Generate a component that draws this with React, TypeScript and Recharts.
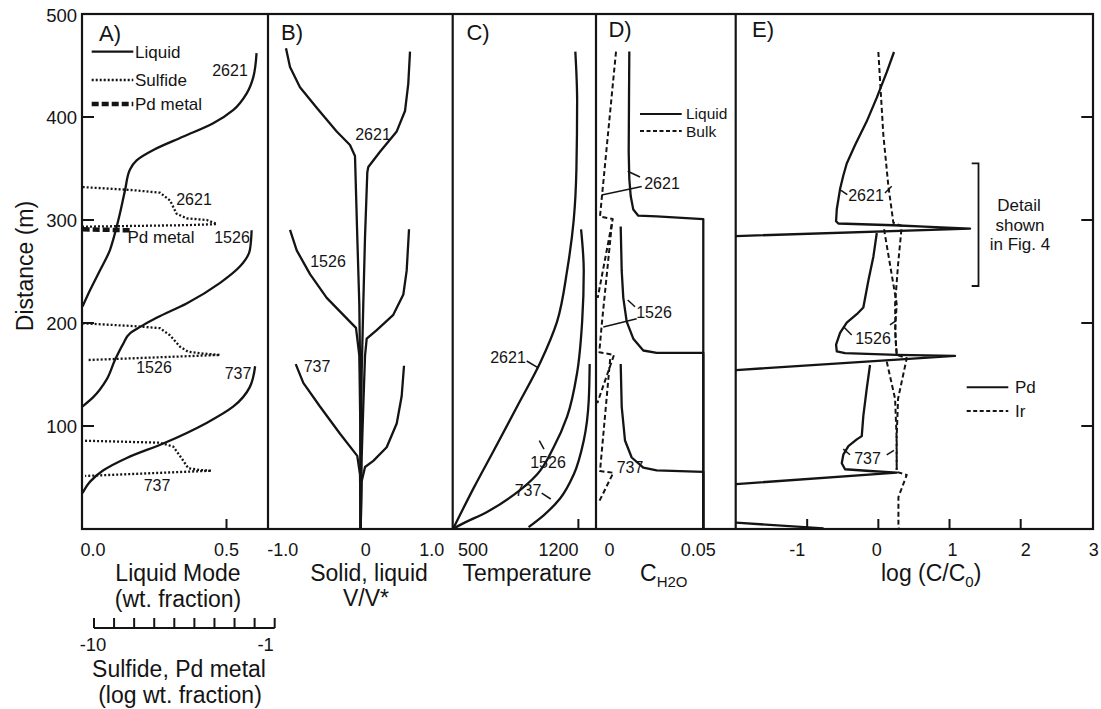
import React from 'react';
import { LineChart, Line, XAxis, YAxis } from 'recharts';

// ---------------- DATA ----------------
// Distance (m) on the shared vertical axis
const distanceTicks = [100, 200, 300, 400, 500];

// Panel A: liquid mode (wt. fraction), [value, distance]
const liqA2621 = [[0.604,462],[0.593,439],[0.570,423],[0.524,407],[0.454,394],[0.351,381],[0.247,368],[0.189,358],[0.166,349],[0.149,329],[0.131,306],[0.108,281],[0.097,271],[0.062,251],[0.028,232],[0.002,216]];
const liqA1526 = [[0.587,290],[0.581,271],[0.547,255],[0.478,239],[0.362,219],[0.258,205],[0.2,196],[0.166,190],[0.143,180],[0.114,164],[0.085,145],[0.039,128],[0.002,119]];
const liqA737 = [[0.599,158],[0.581,138],[0.524,119],[0.431,103],[0.281,83],[0.155,69],[0.074,57],[0.028,46],[0.002,35]];
// Panel A: sulfide and Pd metal (log wt. fraction)
const sulA2621 = [[-10.58,332],[-8.07,329],[-6.73,326.5],[-6.23,319],[-5.9,306],[-5.4,301.6],[-4.4,300],[-3.9,296],[-5.4,295],[-10.58,293.5]];
const sulA1526 = [[-10.58,199.7],[-8.06,197],[-6.73,195],[-6.23,188],[-5.73,177],[-5.32,172],[-4.4,170],[-3.74,169],[-10.38,164]];
const sulA737 = [[-10.46,85.7],[-6.73,83.8],[-6.07,80],[-5.65,68.6],[-5.32,59],[-4.74,57.3],[-4.16,56.6],[-10.46,51.5]];
const pdMetalA = [[-10.58,291],[-8.2,290]];
const liqModeTicks = [0, 0.5];
const logTicks = [-10, -9, -8, -7, -6, -5, -4, -3, -2, -1];

// Panel B: solid (left) and liquid (right) V/V*
const solB2621 = [[-0.983,466.7],[-0.930,448.6],[-0.799,428.9],[-0.579,409],[-0.316,386],[-0.141,372.8],[-0.075,362.2],[-0.045,283.8],[-0.018,217.8],[-0.007,150],[0,60],[0,0]];
const liqB2621 = [[0.649,463.5],[0.626,432.2],[0.583,405.8],[0.474,386],[0.254,366.2],[0.1,351.4],[0.087,346.4],[0.057,283.8],[0.034,217.8],[0.013,151.8],[0.003,85.9],[0,0]];
const solB1526 = [[-0.93,290.4],[-0.842,270.5],[-0.667,247.5],[-0.447,224.4],[-0.229,207.9],[-0.062,195.3],[-0.018,168.3],[-0.005,100],[0,0]];
const liqB1526 = [[0.636,291],[0.605,250.8],[0.561,227.7],[0.429,207.9],[0.211,193.1],[0.079,184.8],[0.057,168.3],[0.034,118.9],[0.013,69.4],[0,0]];
const solB737 = [[-0.855,160.1],[-0.755,141.9],[-0.536,118.9],[-0.272,92.5],[-0.045,71],[-0.009,52.9],[0,0]];
const liqB737 = [[0.57,158.5],[0.539,128.8],[0.474,102.4],[0.342,79.3],[0.166,66.1],[0.057,60.2],[0.013,46.3],[0,0]];
const vTicks = [-1, 0, 1];

// Panel C: temperature
const tempC2621 = [[1183,463.5],[1193,415.7],[1189,349.7],[1174,300.2],[1137,250.8],[1081,201.3],[988,161.8],[858,118.9],[727,76],[615,39.7],[500,0]];
const tempC1526 = [[1215,291],[1230,250.8],[1221,201.3],[1193,151.8],[1137,109],[1062,79.3],[969,52.9],[839,33.1],[690,16.6],[541,4],[500,0]];
const tempC737 = [[1263,160.1],[1258,125.5],[1230,85.9],[1174,52.9],[1099,29.9],[1006,13.3],[922,1.8]];
const tempTicks = [500, 1200];

// Panel D: C_H2O, liquid and bulk
const liqD2621 = [[0.0152,463.5],[0.01505,415.7],[0.01491,366.2],[0.0152,339.8],[0.01585,323.3],[0.01707,310.1],[0.01943,304.2],[0.02808,303.5],[0.05,300.9],[0.05,0]];
const liqD1526 = [[0.01115,293.7],[0.01162,250.8],[0.01237,224.4],[0.01397,201.3],[0.01707,184.8],[0.02178,173.3],[0.02808,171],[0.05,171],[0.05,0]];
const liqD737 = [[0.01115,160.1],[0.01162,118.9],[0.01317,85.9],[0.01632,69.4],[0.02178,59.5],[0.02808,56.9],[0.05,55.5],[0.05,0]];
const bulkD2621 = [[0.00894,463.5],[0.00141,303.5],[0.00738,300.9],[0.00033,224.4]];
const bulkD1526 = [[0.0070,296],[0.00221,198],[0.00108,171.6],[0.008,169],[0.00014,122.2]];
const bulkD737 = [[0.0062,165],[0.00141,56.2],[0.00767,54.6],[0.00061,25]];
const h2oTicks = [0, 0.05];

// Panel E: log(C/C0), Pd and Ir
const pdE2621 = [[0.22,463.1],[0.118,443.5],[-0.022,418.8],[-0.163,395.8],[-0.327,372.8],[-0.444,354.8],[-0.492,343.2],[-0.538,330],[-0.584,310.4],[-0.594,298.8],[-0.562,296.6],[0.211,294.9],[0.726,293.3],[1.288,291.6],[-2,284.4]];
const pdE1526 = [[-0.022,287.4],[-0.07,264.4],[-0.14,241.3],[-0.211,215.1],[-0.303,208.5],[-0.444,200.3],[-0.538,190.5],[-0.594,179],[-0.584,172.4],[-0.468,170.7],[0.258,169.1],[1.077,168.1],[-2,154.3]];
const pdE737 = [[-0.117,159.2],[-0.163,136.2],[-0.211,109.9],[-0.233,90.2],[-0.303,87],[-0.421,80.4],[-0.492,72.2],[-0.514,63.9],[-0.468,58],[-0.117,56.3],[0.258,54.7],[-2,43.6]];
const pdEBase = [[-2,6.1],[-0.77,0.7]];
const irE2621 = [[0.0,463.1],[0.07,382.7],[0.14,333.4],[0.211,297.3],[0.329,294.3],[0.277,256.8],[0.235,218.4],[0.242,183.9],[0.258,169.3]];
const irE1526 = [[0.08,291],[0.258,218.4],[0.235,193.6],[0.258,169.1],[0.399,165.8],[0.277,126.5],[0.256,86.6],[0.258,57.4]];
const irE737 = [[0.118,162.5],[0.235,126.5],[0.258,86.6],[0.258,55.4],[0.399,52.5],[0.282,31],[0.282,4.9],[0.29,0]];
const logRatioTicks = [-1, 0, 1, 2, 3];

// ---------------- STYLE / LAYOUT ----------------
const INK = '#141414';
const FONT = '"Liberation Sans", Arial, Helvetica, sans-serif';
const TOP = 14;
const BOTTOM = 529;
const XH = 40;
const CH = BOTTOM - TOP + XH;
const DIST: [number, number] = [0, 500];

type P = { x: number; d: number };
const pts = (a: number[][]): P[] => a.map(([x, d]) => ({ x, d }));

const SOLID = { stroke: INK, strokeWidth: 2.3 };
const DASH = { stroke: INK, strokeWidth: 2, strokeDasharray: '5 3' };
const DOT = { stroke: INK, strokeWidth: 2.3, strokeDasharray: '2 2' };

const line = (key: string, data: number[][], style: any, type: any = 'linear', xId: any = 0, yId: any = 0) => (
  <Line
    key={key}
    data={pts(data)}
    dataKey="d"
    xAxisId={xId}
    yAxisId={yId}
    type={type}
    dot={false}
    activeDot={false}
    isAnimationActive={false}
    strokeLinejoin="round"
    {...style}
  />
);

const bottomTick = (labels: Record<string, string>, dx: Record<string, number>, marks: number[]) => (props: any) => {
  const { x, y, payload } = props;
  const v = payload.value;
  const k = String(v);
  return (
    <g>
      {marks.includes(v) && <line x1={x} y1={y} x2={x} y2={y - 10} stroke={INK} strokeWidth={2} />}
      <text x={x + (dx[k] ?? 0)} y={y + 27} textAnchor="middle" fontSize={18} fontFamily={FONT} fill={INK}>
        {labels[k] ?? k}
      </text>
    </g>
  );
};

const leftTick = (props: any) => {
  const { x, y, payload } = props;
  return (
    <g>
      {payload.value !== 500 && <line x1={x} y1={y} x2={x + 12} y2={y} stroke={INK} strokeWidth={2} />}
      <text x={x - 5} y={y + (payload.value === 500 ? 8 : 6.5)} textAnchor="end" fontSize={18.5} fontFamily={FONT} fill={INK}>
        {payload.value}
      </text>
    </g>
  );
};

const rightTick = (props: any) => {
  const { x, y, payload } = props;
  if (payload.value === 500) return <g />;
  return <line x1={x} y1={y} x2={x - 12} y2={y} stroke={INK} strokeWidth={2} />;
};

const logTick = (props: any) => {
  const { x, y, payload } = props;
  const v = payload.value;
  return (
    <g>
      <line x1={x} y1={y} x2={x} y2={y - 10} stroke={INK} strokeWidth={2} />
      {v === -10 && <text x={x - 1} y={y + 23} textAnchor="middle" fontSize={18.5} fontFamily={FONT} fill={INK}>-10</text>}
      {v === -1 && <text x={x - 9} y={y + 23} textAnchor="middle" fontSize={18.5} fontFamily={FONT} fill={INK}>-1</text>}
    </g>
  );
};

const M = { top: 0, right: 0, bottom: 0, left: 0 };

function Box({ left, top, children }: { left: number; top: number; children: React.ReactNode }) {
  return <div style={{ position: 'absolute', left, top }}>{children}</div>;
}

function T({ x, y, s = 17, a = 'middle', children }: { x: number; y: number; s?: number; a?: any; children: React.ReactNode }) {
  return (
    <text x={x} y={y + s * 0.36} fontSize={s} textAnchor={a} fontFamily={FONT} fill={INK}>
      {children}
    </text>
  );
}

function L({ x1, y1, x2, y2, w = 1.5, dash }: { x1: number; y1: number; x2: number; y2: number; w?: number; dash?: string }) {
  return <line x1={x1} y1={y1} x2={x2} y2={y2} stroke={INK} strokeWidth={w} strokeDasharray={dash} />;
}

export default function App() {
  return (
    <div style={{ position: 'absolute', left: 0, top: 0, width: 1101, height: 709, background: '#fff', overflow: 'hidden' }}>
      {/* Panel A */}
      <Box left={0} top={0}>
        <LineChart width={268} height={CH + TOP} margin={{ top: TOP, right: 0, bottom: 0, left: 0 }}>
          <XAxis xAxisId="lin" type="number" dataKey="x" domain={[0, 0.6436]} allowDataOverflow ticks={liqModeTicks} interval={0}
            height={XH} tickSize={0} tickMargin={0} axisLine={false} tick={bottomTick({ '0': '0.0', '0.5': '0.5' }, { '0': 11, '0.5': 0 }, [0.5])} />
          <XAxis xAxisId="log" type="number" dataKey="x" domain={[-10.613, -1.35]} allowDataOverflow hide />
          <YAxis type="number" domain={DIST} allowDataOverflow ticks={distanceTicks} interval={0} width={82}
            tickSize={0} tickMargin={0} axisLine={false} tick={leftTick} />
          {line('a1', liqA2621, SOLID, 'monotoneY', 'lin')}
          {line('a2', liqA1526, SOLID, 'monotoneY', 'lin')}
          {line('a3', liqA737, SOLID, 'monotoneY', 'lin')}
          {line('s1', sulA2621, DOT, 'linear', 'log')}
          {line('s2', sulA1526, DOT, 'linear', 'log')}
          {line('s3', sulA737, DOT, 'linear', 'log')}
          {line('pm', pdMetalA, { stroke: INK, strokeWidth: 4.5, strokeDasharray: '7 3' }, 'linear', 'log')}
        </LineChart>
      </Box>

      {/* Log axis for sulfide / Pd metal */}
      <Box left={74.3} top={618}>
        <LineChart width={210.7} height={40} margin={{ top: 0, right: 10, bottom: 0, left: 20 }}>
          <XAxis type="number" dataKey="x" domain={[-10, -1]} allowDataOverflow ticks={logTicks} interval={0} height={30}
            tickSize={0} tickMargin={0} axisLine={{ stroke: INK, strokeWidth: 2 }} tick={logTick} />
          <YAxis hide type="number" domain={[0, 1]} />
        </LineChart>
      </Box>

      {/* Panel B */}
      <Box left={268} top={TOP}>
        <LineChart width={184.7} height={CH} margin={M}>
          <XAxis type="number" dataKey="x" domain={[-1.2197, 1.2105]} allowDataOverflow ticks={vTicks} interval={0}
            height={XH} tickSize={0} tickMargin={0} axisLine={false}
            tick={bottomTick({ '-1': '-1.0', '0': '0', '1': '1.0' }, { '-1': -2, '0': 5, '1': -5 }, [])} />
          <YAxis hide type="number" domain={DIST} allowDataOverflow />
          {line('b1', solB2621, SOLID)}
          {line('b2', liqB2621, SOLID)}
          {line('b3', solB1526, SOLID)}
          {line('b4', liqB1526, SOLID)}
          {line('b5', solB737, SOLID)}
          {line('b6', liqB737, SOLID)}
        </LineChart>
      </Box>

      {/* Panel C */}
      <Box left={452.7} top={TOP}>
        <LineChart width={143.3} height={CH} margin={M}>
          <XAxis type="number" dataKey="x" domain={[500, 1300]} allowDataOverflow ticks={tempTicks} interval={0}
            height={XH} tickSize={0} tickMargin={0} axisLine={false}
            tick={bottomTick({}, { '500': 20, '1200': -20 }, [1200])} />
          <YAxis hide type="number" domain={DIST} allowDataOverflow />
          {line('c1', tempC2621, SOLID, 'monotoneY')}
          {line('c2', tempC1526, SOLID, 'monotoneY')}
          {line('c3', tempC737, SOLID, 'monotoneY')}
        </LineChart>
      </Box>

      {/* Panel D */}
      <Box left={596} top={TOP}>
        <LineChart width={139.7} height={CH} margin={M}>
          <XAxis type="number" dataKey="x" domain={[-0.00047, 0.06524]} allowDataOverflow ticks={h2oTicks} interval={0}
            height={XH} tickSize={0} tickMargin={0} axisLine={false}
            tick={bottomTick({ '0': '0', '0.05': '0.05' }, { '0': 12.5, '0.05': -5 }, [])} />
          <YAxis hide type="number" domain={DIST} allowDataOverflow />
          {line('d1', liqD2621, SOLID)}
          {line('d2', liqD1526, SOLID)}
          {line('d3', liqD737, SOLID)}
          {line('d4', bulkD2621, DASH)}
          {line('d5', bulkD1526, DASH)}
          {line('d6', bulkD737, DASH)}
        </LineChart>
      </Box>

      {/* Panel E */}
      <Box left={735.7} top={TOP}>
        <LineChart width={368.3} height={CH} margin={{ top: 0, right: 10, bottom: 0, left: 0 }}>
          <XAxis type="number" dataKey="x" domain={[-2, 3.02]} allowDataOverflow ticks={logRatioTicks} interval={0}
            height={XH} tickSize={0} tickMargin={0} axisLine={false}
            tick={bottomTick({}, { '-1': -10, '0': -1.5, '1': 3, '2': 5, '3': 2 }, [-1, 0, 1, 2])} />
          <YAxis yAxisId="main" hide type="number" domain={DIST} allowDataOverflow />
          <YAxis yAxisId="right" orientation="right" type="number" domain={DIST} allowDataOverflow ticks={distanceTicks}
            interval={0} width={1} tickSize={0} tickMargin={0} axisLine={false} tick={rightTick} />
          {line('e1', pdE2621, SOLID, 'linear', 0, 'main')}
          {line('e2', pdE1526, SOLID, 'linear', 0, 'main')}
          {line('e3', pdE737, SOLID, 'linear', 0, 'main')}
          {line('e4', pdEBase, SOLID, 'linear', 0, 'main')}
          {line('e5', irE2621, DASH, 'linear', 0, 'main')}
          {line('e6', irE1526, DASH, 'linear', 0, 'main')}
          {line('e7', irE737, DASH, 'linear', 0, 'main')}
        </LineChart>
      </Box>

      {/* Frames, annotations, legends, titles */}
      <svg width={1101} height={709} style={{ position: 'absolute', left: 0, top: 0, pointerEvents: 'none' }}>
        <rect x={82} y={TOP} width={1093 - 82} height={BOTTOM - TOP} fill="none" stroke={INK} strokeWidth={2.2} />
        {[268, 452.7, 596, 735.7].map((x) => (
          <line key={x} x1={x} y1={TOP} x2={x} y2={BOTTOM} stroke={INK} strokeWidth={2.2} />
        ))}

        {/* panel letters */}
        <T x={110} y={33} s={22}>A)</T>
        <T x={292} y={32} s={22}>B)</T>
        <T x={478} y={32} s={22}>C)</T>
        <T x={620} y={29} s={22}>D)</T>
        <T x={763} y={29} s={22}>E)</T>

        {/* A legend */}
        <L x1={91.7} y1={51.7} x2={133.3} y2={51.7} w={2.3} />
        <L x1={91.7} y1={80} x2={133.3} y2={80} w={2.3} dash="2 2" />
        <L x1={91.7} y1={104} x2={133.3} y2={104} w={4.5} dash="7 3" />
        <T x={135} y={52} a="start">Liquid</T>
        <T x={135} y={80} a="start">Sulfide</T>
        <T x={135} y={104} a="start">Pd metal</T>
        {/* A labels */}
        <T x={230} y={70} s={16}>2621</T>
        <T x={194} y={199} s={16}>2621</T>
        <T x={161} y={237} s={17}>Pd metal</T>
        <T x={232} y={237} s={16}>1526</T>
        <T x={154} y={367} s={16}>1526</T>
        <T x={238} y={373} s={16}>737</T>
        <T x={157} y={485} s={16}>737</T>

        {/* B labels */}
        <T x={373} y={134} s={16}>2621</T>
        <T x={328} y={261} s={16}>1526</T>
        <T x={317} y={366} s={16}>737</T>

        {/* C labels */}
        <T x={508} y={357} s={16}>2621</T>
        <L x1={526.7} y1={361} x2={538.3} y2={367.8} />
        <T x={548} y={462} s={16}>1526</T>
        <L x1={539.3} y1={440.7} x2={544} y2={449.2} />
        <T x={528} y={490} s={16}>737</T>
        <L x1={541.7} y1={493.2} x2={550.7} y2={499} />

        {/* D legend & labels */}
        <L x1={640} y1={114} x2={681.7} y2={114} w={2} />
        <L x1={640} y1={131} x2={681.7} y2={131} w={2} dash="4 2.5" />
        <T x={686} y={113.5} s={15.5} a="start">Liquid</T>
        <T x={686} y={131} s={15.5} a="start">Bulk</T>
        <T x={662} y={183} s={16}>2621</T>
        <L x1={627.7} y1={171.2} x2={640} y2={177} />
        <L x1={601.7} y1={195} x2={641.7} y2={186.5} />
        <T x={654} y={312} s={16}>1526</T>
        <L x1={627.7} y1={300} x2={635} y2={306.8} />
        <L x1={603.3} y1={327.1} x2={636.7} y2={318.7} />
        <T x={630} y={467} s={16}>737</T>

        {/* E labels */}
        <T x={866} y={195} s={16}>2621</T>
        <L x1={841} y1={190.3} x2={847.3} y2={194.7} />
        <L x1={885} y1={193} x2={891.7} y2={186.3} />
        <T x={873} y={338} s={16}>1526</T>
        <L x1={843.3} y1={326.5} x2={851.7} y2={335} />
        <L x1={890} y1={324.8} x2={895} y2={321.4} />
        <T x={867.5} y={458} s={16}>737</T>
        <L x1={843.3} y1={449.1} x2={850} y2={454.8} />
        <L x1={886.7} y1={454.8} x2={894} y2={450.4} />
        {/* bracket */}
        <polyline points="971.7,163.3 978.5,163.3 978.5,286 971.7,286" fill="none" stroke={INK} strokeWidth={1.8} />
        <T x={1019} y={205}>Detail</T>
        <T x={1020} y={225}>shown</T>
        <T x={1020} y={244}>in Fig. 4</T>
        {/* E legend */}
        <L x1={966.7} y1={387.3} x2={1008.3} y2={387.3} w={2} />
        <L x1={966.7} y1={411} x2={1008.3} y2={411} w={2} dash="4 2.5" />
        <T x={1015} y={387} a="start">Pd</T>
        <T x={1015} y={411} a="start">Ir</T>

        {/* Axis titles */}
        <text transform="translate(33,266) rotate(-90)" textAnchor="middle" fontSize={23} fontFamily={FONT} fill={INK}>Distance (m)</text>
        <T x={178} y={573} s={23}>Liquid Mode</T>
        <T x={178} y={599} s={23}>(wt. fraction)</T>
        <T x={179} y={669} s={23}>Sulfide, Pd metal</T>
        <T x={180} y={695} s={23}>(log wt. fraction)</T>
        <T x={369} y={573} s={23}>Solid, liquid</T>
        <T x={366} y={598} s={23}>V/V*</T>
        <T x={527} y={573} s={23}>Temperature</T>
        <text x={640} y={581} fontSize={23} fontFamily={FONT} fill={INK}>C<tspan fontSize={15} dy={6}>H2O</tspan></text>
        <text x={881} y={581} fontSize={23} fontFamily={FONT} fill={INK}>log (C/C<tspan fontSize={15} dy={6}>0</tspan><tspan dy={-6}>)</tspan></text>
      </svg>
    </div>
  );
}
